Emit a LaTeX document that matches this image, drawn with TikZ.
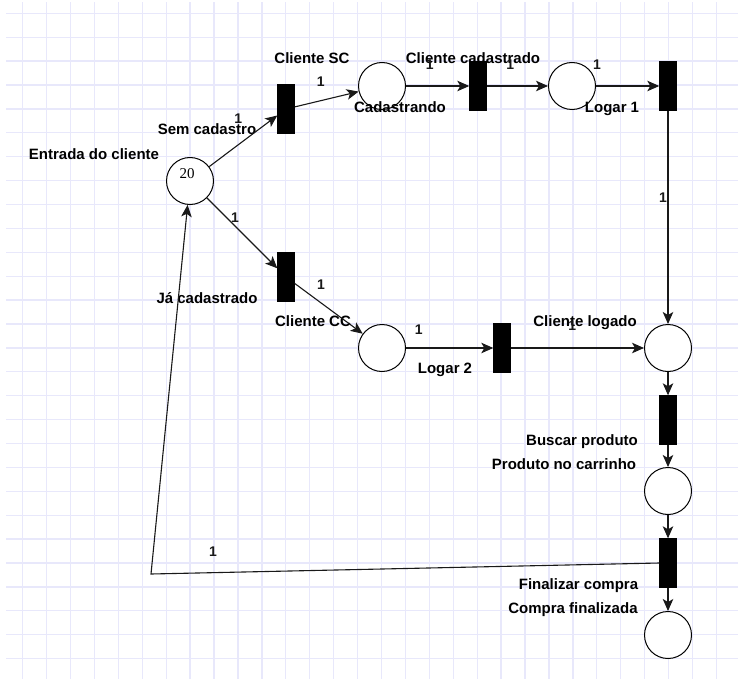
\documentclass[tikz,border=0pt]{standalone}
\usepackage{fontspec}
\setmainfont{Liberation Serif}
\setsansfont{Liberation Sans}
\usetikzlibrary{positioning,arrows.meta}
\definecolor{gridblue}{RGB}{232,232,251}

\begin{document}
\begin{tikzpicture}[x=1pt, y=1pt, on grid, >={Stealth[length=12pt,width=10.5pt,inset=3pt]}]
    \tikzstyle{place} = [circle, draw, line width=1pt, fill=white, minimum size=47pt, inner sep=0pt]
    \tikzstyle{trans} = [rectangle, draw, fill=black, minimum width=17pt, minimum height=49pt, inner sep=0pt]
    \tikzstyle{lbl} = [font=\sffamily\bfseries\fontsize{15}{18}\selectfont, inner sep=0pt, text height=10.5pt, text depth=0pt]
    \tikzstyle{wt} = [font=\sffamily\bfseries\fontsize{14}{16}\selectfont, inner sep=0pt, text height=10pt, text depth=0pt]
    \tikzstyle{arc} = [->, line width=1.1pt, black!90]

    % grid paper
    \useasboundingbox (0,0) rectangle (738,-679);
    \foreach \i in {0,...,29}
        \draw [gridblue, line width=1.3pt] ({22.7+23.92*\i},-2) -- ({22.7+23.92*\i},-679);
    \foreach \j in {0,...,27}
        \draw [gridblue, line width=1.3pt] (6,{-13.3-23.9*\j}) -- (738,{-13.3-23.9*\j});

    % places and transitions
    \node [place] (p0) at (190,-181) {};
    \node [trans, above right=72pt and 96pt of p0] (t1) {};
    \node [place, above right=23pt and 96pt of t1] (p1) {};
    \node [trans, right=96pt of p1] (t2) {};
    \node [place, right=94pt of t2] (p2) {};
    \node [trans, right=96pt of p2] (t3) {};
    \node [place, below=262pt of t3] (p3) {};
    \node [trans, below right=96pt and 96pt of p0] (t4) {};
    \node [place, below right=71pt and 96pt of t4] (p4) {};
    \node [trans, right=120pt of p4] (t5) {};
    \node [trans, below=72pt of p3] (t6) {};
    \node [place, below=71pt of t6] (p5) {};
    \node [trans, below=72pt of p5] (t7) {};
    \node [place, below=72pt of t7] (p6) {};
    \coordinate (back) at (151,-574);

    % token count
    \node [font=\fontsize{15}{18}\selectfont, inner sep=0pt, below=11pt of p0.north, xshift=-3pt] (tok) {20};

    % labels
    \node [lbl, above left=27pt and 96pt of p0] (l0) {Entrada do cliente};
    \node [lbl, above right=52pt and 17pt of p0] (l1) {Sem cadastro};
    \node [lbl, above right=51pt and 26pt of t1] (l2) {Cliente SC};
    \node [lbl, below right=21pt and 18pt of p1] (l3) {Cadastrando};
    \node [lbl, above left=28pt and 5pt of t2] (l4) {Cliente cadastrado};
    \node [lbl, below left=21pt and 56pt of t3] (l5) {Logar 1};
    \node [lbl, above left=27pt and 83pt of p3] (l6) {Cliente logado};
    \node [lbl, below left=21pt and 79pt of t4] (l7) {Já cadastrado};
    \node [lbl, below right=44pt and 27pt of t4] (l8) {Cliente CC};
    \node [lbl, below left=20pt and 57pt of t5] (l9) {Logar 2};
    \node [lbl, below left=20pt and 86pt of t6] (l10) {Buscar produto};
    \node [lbl, above left=27pt and 104pt of p5] (l11) {Produto no carrinho};
    \node [lbl, below left=21pt and 89.5pt of t7] (l12) {Finalizar compra};
    \node [lbl, above left=27pt and 95pt of p6] (l13) {Compra finalizada};

    % arcs
    \draw [arc] (p0) -- node [wt, xshift=-5pt, yshift=23pt] (w1) {1} (t1);
    \draw [arc] (t1) -- node [wt, xshift=-6pt, yshift=18pt] (w2) {1} (p1);
    \draw [arc] (p1) -- node [wt, xshift=-8pt, yshift=21pt] (w3) {1} (t2);
    \draw [arc] (t2) -- node [wt, xshift=-7pt, yshift=21pt] (w4) {1} (p2);
    \draw [arc] (p2) -- node [wt, pos=0, xshift=1pt, yshift=21pt] (w5) {1} (t3);
    \draw [arc] (t3) -- node [wt, xshift=-5pt, yshift=20pt] (w6) {1} (p3);
    \draw [arc] (p0) -- node [wt, xshift=-7pt, yshift=16pt] (w7) {1} (t4);
    \draw [arc] (t4) -- node [wt, xshift=-7.6pt, yshift=24.5pt] (w8) {1} (p4);
    \draw [arc] (p4) -- node [wt, xshift=-31pt, yshift=19pt] (w9) {1} (t5);
    \draw [arc] (t5) -- node [wt, xshift=-5pt, yshift=23pt] (w10) {1} (p3);
    \draw [arc] (p3) -- (t6);
    \draw [arc] (t6) -- (p5);
    \draw [arc] (p5) -- (t7);
    \draw [arc] (t7) -- (p6);
    \draw [arc] (t7.west) -- node [wt, pos=0.878, yshift=21pt] (w11) {1} (back) -- (p0);
\end{tikzpicture}
\end{document}
